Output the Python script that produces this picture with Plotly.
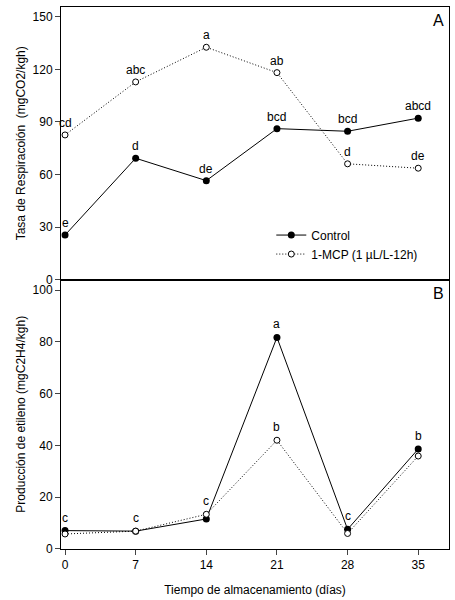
import plotly.graph_objects as go

days = [0, 7, 14, 21, 28, 35]

# Panel A: respiration rate (mgCO2/kgh)
resp_control = [25.4, 69.3, 56.5, 86.2, 84.7, 92.2]
resp_mcp = [82.6, 112.9, 132.7, 118.2, 66.1, 63.6]
resp_control_labels = ["e", "d", "de", "bcd", "bcd", "abcd"]
resp_mcp_labels = ["cd", "abc", "a", "ab", "d", "de"]

# Panel B: ethylene production (mgC2H4/kgh)
eth_control = [7.1, 6.9, 11.6, 81.7, 7.6, 38.6]
eth_mcp = [5.8, 6.9, 13.4, 42.0, 6.0, 35.9]
eth_control_labels = ["c", "c", "", "a", "c", "b"]
eth_mcp_labels = ["", "", "c", "b", "", ""]

resp_ticks = [0, 30, 60, 90, 120, 150]
eth_ticks = [0, 20, 40, 60, 80, 100]

FONT = "Liberation Sans, Arial, sans-serif"

fig = go.Figure()

ctrl_line = dict(color="black", width=1)
mcp_line = dict(color="black", width=1, dash="1px,2px")
ctrl_marker = dict(symbol="circle", size=7, color="black")
mcp_marker = dict(symbol="circle", size=6, color="white", line=dict(color="black", width=1))

fig.add_trace(go.Scatter(x=days, y=resp_control, mode="lines+markers", name="Control",
                         line=ctrl_line, marker=ctrl_marker, xaxis="x2", yaxis="y"))
fig.add_trace(go.Scatter(x=days, y=resp_mcp, mode="lines+markers", name="1-MCP (1 µL/L-12h)",
                         line=mcp_line, marker=mcp_marker, xaxis="x2", yaxis="y"))
fig.add_trace(go.Scatter(x=days, y=eth_control, mode="lines+markers", name="Control",
                         line=ctrl_line, marker=ctrl_marker, xaxis="x", yaxis="y2", showlegend=False))
fig.add_trace(go.Scatter(x=days, y=eth_mcp, mode="lines+markers", name="1-MCP",
                         line=mcp_line, marker=mcp_marker, xaxis="x", yaxis="y2", showlegend=False))

annotations = []
def add_labels(xs, ys, labels, xref, yref, shift):
    for x, y, t in zip(xs, ys, labels):
        if t:
            annotations.append(dict(x=x, y=y, xref=xref, yref=yref, text=t, showarrow=False,
                                    yshift=shift, font=dict(size=12, color="black", family=FONT)))

add_labels(days, resp_control, resp_control_labels, "x2", "y", 12)
add_labels(days, resp_mcp, resp_mcp_labels, "x2", "y", 12)
add_labels(days, eth_control, eth_control_labels, "x", "y2", 13)
add_labels(days, eth_mcp, eth_mcp_labels, "x", "y2", 13)

annotations.append(dict(x=0.992, y=0.994, xref="paper", yref="paper", text="A", showarrow=False,
                        xanchor="right", yanchor="top", font=dict(size=16, color="black", family=FONT)))
annotations.append(dict(x=0.992, y=0.49, xref="paper", yref="paper", text="B", showarrow=False,
                        xanchor="right", yanchor="top", font=dict(size=16, color="black", family=FONT)))

split = 0.4972
xr = [-0.4, 38.05]

fig.update_layout(
    width=455, height=600,
    margin=dict(l=61, r=6, t=7, b=51),
    paper_bgcolor="white", plot_bgcolor="white",
    font=dict(family=FONT, size=12, color="black"),
    annotations=annotations,
    xaxis=dict(domain=[0, 1], anchor="y2", range=xr, tickvals=days, ticks="outside", ticklen=5,
               showline=True, linecolor="black", linewidth=1, mirror=True, showgrid=False, zeroline=False,
               title=dict(text="Tiempo de almacenamiento (días)", standoff=14, font=dict(size=12))),
    xaxis2=dict(domain=[0, 1], anchor="y", range=xr, matches="x", showticklabels=False, ticks="",
                showline=True, linecolor="black", linewidth=1, mirror=True, showgrid=False, zeroline=False),
    yaxis=dict(domain=[split, 1], anchor="x2", range=[0, 155.7], tickvals=resp_ticks, ticks="outside",
               ticklen=5, showline=True, linecolor="black", linewidth=1, mirror=True, showgrid=False,
               zeroline=False, title=dict(text="Tasa de Respiracoión  (mgCO2/kgh)", standoff=4,
                                          font=dict(size=12))),
    yaxis2=dict(domain=[0, split], anchor="x", range=[0, 104.05], tickvals=eth_ticks, ticks="outside",
                ticklen=5, showline=True, linecolor="black", linewidth=1, mirror=True, showgrid=False,
                zeroline=False, title=dict(text="Producción de etileno (mgC2H4/kgh)", standoff=4,
                                           font=dict(size=12))),
    legend=dict(x=0.542, y=0.606, xanchor="left", yanchor="top", bgcolor="rgba(0,0,0,0)",
                font=dict(size=12, family=FONT), tracegroupgap=0),
    showlegend=True,
)

fig.write_html("out.html", config={"displayModeBar": False},
               post_script="document.body.style.margin='0';")
